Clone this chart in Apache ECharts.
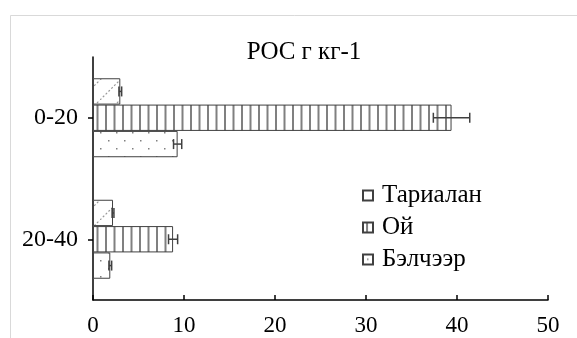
<!DOCTYPE html>
<html>
<head>
<meta charset="utf-8">
<script src="https://cdn.jsdelivr.net/npm/echarts@6/dist/echarts.min.js"></script>
<style>
  html, body { margin: 0; padding: 0; background: #fff; }
  #chart { width: 577px; height: 338px; }
</style>
</head>
<body>
<div id="chart"></div>
<script>
var categories = ['0-20', '20-40'];
var seriesNames = ['Тариалан', 'Ой', 'Бэлчээр'];
var tarialan = [3.0, 2.2];
var oi = [39.4, 8.8];
var belcheer = [9.3, 1.9];
var tarialanErr = [0.15, 0.1];
var oiErr = [2.0, 0.5];
var belcheerErr = [0.45, 0.15];
var xTicks = [0, 10, 20, 30, 40, 50];

var FONT = '"Liberation Serif", "DejaVu Serif", serif';

// hatch patterns drawn on small canvases
function makePattern(kind) {
    var c = document.createElement('canvas');
    var ctx = c.getContext('2d');
    if (kind === 'diag') {
        c.width = 20; c.height = 20;
        ctx.fillStyle = '#fff';
        ctx.fillRect(0, 0, 20, 20);
        ctx.strokeStyle = '#999';
        ctx.lineWidth = 1.2;
        ctx.setLineDash([2, 2]);
        ctx.beginPath();
        ctx.moveTo(0, 20); ctx.lineTo(20, 0);
        ctx.stroke();
    } else if (kind === 'vert') {
        c.width = 17; c.height = 8;
        ctx.fillStyle = '#fff';
        ctx.fillRect(0, 0, 17, 8);
        ctx.fillStyle = '#808080';
        ctx.fillRect(3, 0, 2, 8);
        ctx.fillRect(11.5, 0, 2, 8);
    } else {
        c.width = 16; c.height = 16;
        ctx.fillStyle = '#fff';
        ctx.fillRect(0, 0, 16, 16);
        ctx.fillStyle = '#808080';
        ctx.fillRect(4, 4, 1.5, 1.5);
        ctx.fillRect(12, 12, 1.5, 1.5);
    }
    return { image: c, repeat: 'repeat' };
}

var patterns = [makePattern('diag'), makePattern('vert'), makePattern('dots')];
var values = [tarialan, oi, belcheer];
var errors = [tarialanErr, oiErr, belcheerErr];

var chart = echarts.init(document.getElementById('chart'));

var series = [];
seriesNames.forEach(function (name, i) {
    series.push({
        name: name,
        type: 'bar',
        data: values[i],
        barGap: '0%',
        barCategoryGap: '35%',
        itemStyle: {
            color: patterns[i],
            borderColor: '#404040',
            borderWidth: 1
        }
    });
});

// error bars
var errData = [];
seriesNames.forEach(function (name, i) {
    categories.forEach(function (cat, j) {
        errData.push([values[i][j], j, errors[i][j], i]);
    });
});
series.push({
    type: 'custom',
    name: 'err',
    data: errData,
    encode: { x: 0, y: 1 },
    z: 10,
    renderItem: function (params, api) {
        var v = api.value(0), cat = api.value(1), e = api.value(2), si = api.value(3);
        var band = api.size([0, 1])[1];
        var barW = band * 0.65 / 3;
        var center = api.coord([v, cat]);
        var y = center[1] + (si - 1) * barW;
        var x1 = api.coord([v - e, cat])[0];
        var x2 = api.coord([v + e, cat])[0];
        var cap = 5;
        var style = { stroke: '#404040', lineWidth: 1.5 };
        return {
            type: 'group',
            children: [
                { type: 'line', shape: { x1: x1, y1: y, x2: x2, y2: y }, style: style },
                { type: 'line', shape: { x1: x1, y1: y - cap, x2: x1, y2: y + cap }, style: style },
                { type: 'line', shape: { x1: x2, y1: y - cap, x2: x2, y2: y + cap }, style: style }
            ]
        };
    }
});

var option = {
    backgroundColor: '#fff',
    animation: false,
    title: {
        text: 'POC г кг-1',
        left: 299,
        top: 35,
        textAlign: 'center',
        textStyle: { fontFamily: FONT, fontSize: 25, fontWeight: 'normal', color: '#000' }
    },
    graphic: [{
        type: 'rect',
        shape: { x: 10.5, y: 15.5, width: 700, height: 500 },
        style: { fill: 'none', stroke: '#d9d9d9', lineWidth: 1 },
        silent: true
    }],
    legend: {
        data: seriesNames,
        orient: 'vertical',
        left: 357,
        top: 178,
        itemWidth: 10,
        itemHeight: 10,
        itemGap: 7,
        icon: 'rect',
        textStyle: { fontFamily: FONT, fontSize: 25, color: '#000', padding: [0, 0, 0, 4] }
    },
    grid: { left: 93, right: 29, top: 57, bottom: 38 },
    xAxis: {
        type: 'value',
        min: 0,
        max: 50,
        interval: 10,
        axisLine: { show: true, lineStyle: { color: '#000', width: 1.5 } },
        axisTick: { show: true, inside: true, length: 5, lineStyle: { color: '#000', width: 1.5 } },
        axisLabel: {
            margin: 14,
            fontFamily: FONT, fontSize: 23, color: '#000',
            formatter: function (v) { return xTicks.indexOf(v) >= 0 ? String(v) : ''; }
        },
        splitLine: { show: false }
    },
    yAxis: {
        type: 'category',
        data: categories,
        inverse: true,
        axisLine: { show: true, lineStyle: { color: '#000', width: 1.5 } },
        axisTick: { show: true, alignWithLabel: true, length: 5, lineStyle: { color: '#000', width: 1.5 } },
        axisLabel: { margin: 15, fontFamily: FONT, fontSize: 24, color: '#000' }
    },
    series: series
};

chart.setOption(option);
</script>
</body>
</html>
